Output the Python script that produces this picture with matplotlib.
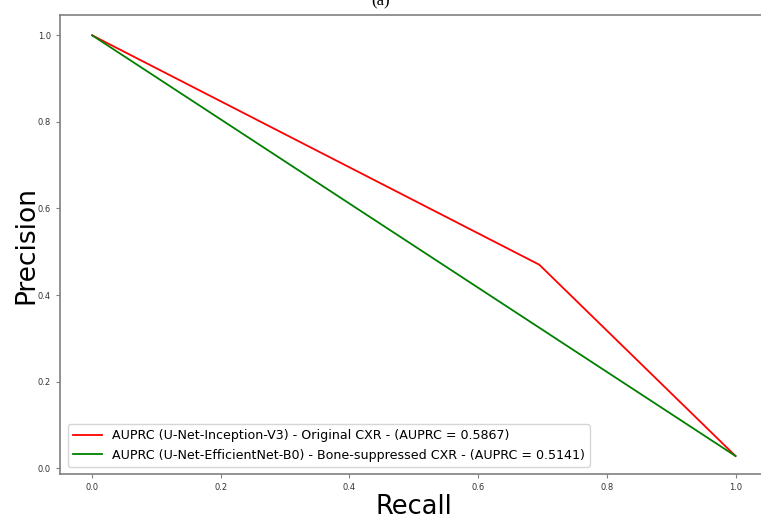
import matplotlib.pyplot as plt

recall_a = [0.0, 0.695, 1.0]
precision_a = [1.0, 0.47, 0.028]
recall_b = [0.0, 1.0]
precision_b = [1.0, 0.028]
label_a = 'AUPRC (U-Net-Inception-V3) - Original CXR - (AUPRC = 0.5867)'
label_b = 'AUPRC (U-Net-EfficientNet-B0) - Bone-suppressed CXR - (AUPRC = 0.5141)'

fig = plt.figure(figsize=(7.61, 5.16), dpi=100)
ax = fig.add_axes([0.0788, 0.081, 0.930, 0.89])
ax.plot(recall_a, precision_a, color='red', lw=1.3, label=label_a)
ax.plot(recall_b, precision_b, color='green', lw=1.3, label=label_b)
ax.set_xlim(-0.05, 1.05)
ax.set_ylim(-0.014, 1.047)
ax.set_xticks([0.0, 0.2, 0.4, 0.6, 0.8, 1.0])
ax.set_yticks([0.0, 0.2, 0.4, 0.6, 0.8, 1.0])
ax.tick_params(labelsize=6, length=3, color='#808080', labelcolor='#333333')
for s in ax.spines.values():
    s.set_color('#808080')
    s.set_linewidth(1.2)
ax.set_xlabel('Recall', fontsize=18.5, labelpad=1)
ax.set_ylabel('Precision', fontsize=19, labelpad=-1)
ax.legend(loc='lower left', fontsize=9.1, handlelength=2.3, borderaxespad=0.6)
fig.text(0.5, 1.012, '(a)', ha='center', va='top', fontsize=12, family='Liberation Serif')
fig.savefig('out.png', dpi=100)
